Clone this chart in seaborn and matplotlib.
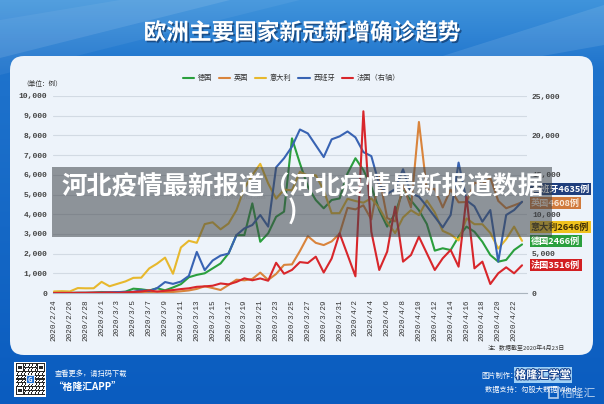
import numpy as np
import pandas as pd
import matplotlib
matplotlib.use("Agg")
import matplotlib.pyplot as plt
import matplotlib.patheffects as pe
from matplotlib.patches import FancyBboxPatch, Rectangle, Polygon
from matplotlib.lines import Line2D
from matplotlib.ticker import FuncFormatter, MultipleLocator
import seaborn as sns

# ---------------- data ----------------
dates = pd.date_range("2020-02-24", "2020-04-23", freq="D")
germany = [0, 0, 2, 10, 9, 19, 51, 29, 37, 66, 220, 188, 129, 241, 136, 281, 450, 800, 920, 1000,
           1250, 1500, 2010, 2940, 2940, 4550, 2600, 3030, 3870, 4130, 7850, 6580, 5400, 4720, 4300,
           4720, 4800, 6070, 6840, 6240, 5400, 4210, 3370, 4040, 5200, 4700, 4200, 3500, 2150, 2270,
           2180, 2860, 3370, 3110, 2600, 1930, 1590, 1680, 2180, 2466]
uk = [0, 0, 0, 2, 5, 3, 13, 4, 11, 34, 30, 48, 43, 67, 48, 52, 87, 130, 208, 342,
      251, 152, 407, 676, 643, 714, 1035, 665, 967, 1427, 1452, 2129, 2885, 2546, 2433,
      2619, 3009, 4324, 4244, 4450, 3735, 5903, 3802, 3634, 5491, 4344, 8681, 5233, 5288, 4342,
      5252, 4603, 4617, 5599, 5525, 5850, 4676, 4301, 4451, 4608]
italy = [78, 93, 78, 250, 238, 240, 566, 342, 466, 587, 769, 778, 1247, 1492, 1797, 977, 2313, 2651,
         2547, 3497, 3590, 3233, 3526, 4207, 5322, 5986, 6557, 5560, 4789, 5249, 5210, 6153, 5959,
         5974, 5217, 4050, 4053, 4782, 4668, 4585, 4805, 4316, 3599, 3039, 3836, 4204, 3951, 4694,
         4092, 3153, 2972, 2667, 3786, 3493, 3491, 3047, 2256, 2729, 3370, 2646]
spain = [0, 4, 2, 6, 9, 13, 20, 36, 47, 56, 60, 141, 100, 248, 557, 464, 581, 869, 2086, 1159,
         1650, 1900, 2000, 2940, 3280, 3450, 3960, 3370, 6380, 6840, 7430, 8300, 8100, 7500, 6900,
         7800, 7950, 8200, 7900, 7150, 6950, 5500, 5030, 5270, 6280, 5060, 4890, 4400, 3870, 3330,
         3960, 6620, 4700, 4400, 3620, 4210, 1590, 3960, 4210, 4635]
france = [0, 2, 4, 20, 19, 43, 30, 61, 21, 73, 138, 190, 336, 177, 286, 372, 497, 595, 785, 838,
          924, 1210, 1097, 1404, 1861, 1617, 1847, 1559, 3838, 2446, 2931, 3922, 3809, 4611, 2599,
          4376, 7578, 4861, 2116, 23060, 7788, 2920, 5250, 10960, 3980, 4820, 7150, 5030, 2920, 4400,
          5460, 3340, 12200, 3130, 3980, 1140, 2500, 3260, 2500, 3516]

left_names = ["德国", "英国", "意大利", "西班牙"]
france_name = "法国"
france_legend = "法国（右轴）"
colors = {"德国": "#2a9f3d", "英国": "#d9843c", "意大利": "#e7b82d",
          "西班牙": "#3863b3", "法国": "#d8262b"}
end_label_order = ["西班牙", "英国", "意大利", "德国", "法国"]
end_label_y = [189, 203, 227, 241, 265]
end_label_text_color = {"西班牙": "white", "英国": "#fbe9d8", "意大利": "#3b2c05",
                        "德国": "white", "法国": "white"}
end_box_color = {"西班牙": "#1f3e7c", "英国": "#d07a3c", "意大利": "#f0c21e",
                 "德国": "#2a9f3d", "法国": "#d21f22"}

title = "欧洲主要国家新冠新增确诊趋势"
unit_label = "（单位：例）"
banner_line1 = "河北疫情最新报道（河北疫情最新报道数据"
banner_line2 = ")"
note = "注：数据截至2020年4月23日"

series = {"德国": germany, "英国": uk, "意大利": italy, "西班牙": spain}
df = pd.DataFrame({"date": dates, **series})
long = df.melt(id_vars="date", var_name="country", value_name="cases")
fr = pd.DataFrame({"date": dates, "cases": france})

# ---------------- style ----------------
sns.set_style("white")
plt.rcParams["font.family"] = ["Noto Sans CJK SC", "DejaVu Sans"]
plt.rcParams["axes.unicode_minus"] = False

W, H = 604, 404
fig = plt.figure(figsize=(W / 100, H / 100), dpi=100)

# ---------------- background ----------------
bg = fig.add_axes([0, 0, 1, 1], zorder=0)
yy = np.linspace(0, 1, H)[:, None]
c_top = np.array([0.25, 0.58, 0.86])
c_mid = np.array([0.12, 0.45, 0.80])
c_bot = np.array([0.04, 0.36, 0.75])
t1 = np.clip(yy / (70 / H), 0, 1)
t2 = np.clip((yy - 70 / H) / (1 - 70 / H), 0, 1)
grad = np.where(yy[..., None] < 70 / H,
                c_top * (1 - t1[..., None]) + c_mid * t1[..., None],
                c_mid * (1 - t2[..., None]) + c_bot * t2[..., None])
grad = np.broadcast_to(grad, (H, W, 3))
bg.imshow(grad, extent=(0, W, H, 0), aspect="auto", zorder=0)
bg.add_patch(Polygon([[0, 0], [230, 0], [0, 58]], closed=True, fc="white", alpha=0.10, ec="none", zorder=1))
bg.add_patch(Polygon([[0, 20], [120, 0], [300, 0], [0, 75]], closed=True, fc="white", alpha=0.06, ec="none", zorder=1))
bg.add_patch(Polygon([[430, 60], [604, 5], [604, 45], [520, 60]], closed=True, fc="white", alpha=0.10, ec="none", zorder=1))
bg.add_patch(FancyBboxPatch((10, 56), 583, 299, boxstyle="round,pad=0,rounding_size=14",
                            fc="#edf3fa", ec="none", zorder=2))
bg.set_xlim(0, W)
bg.set_ylim(H, 0)
bg.axis("off")

bg.text(W / 2, 33, title, ha="center", va="center", fontsize=16.3, fontweight="bold", color="white",
        zorder=3, path_effects=[pe.withSimplePatchShadow(offset=(1.2, -1.2), shadow_rgbFace="#0b2a55", alpha=0.6)])
bg.text(22, 84, unit_label, ha="left", va="center", fontsize=4.8, color="#333333", zorder=3)
bg.text(565, 348, note, ha="right", va="center", fontsize=4.3, color="#333333", style="italic", zorder=3)

# ---------------- chart ----------------
ax = fig.add_axes([53 / W, 1 - 293 / H, 474 / W, 197 / H], zorder=2)
ax.patch.set_alpha(0)
sns.lineplot(data=long, x="date", y="cases", hue="country", hue_order=left_names,
             palette=colors, linewidth=1.5, legend=False, ax=ax)
ax.set_ylim(0, 10000)
ax.set_xlim(dates[0] - pd.Timedelta(hours=3), dates[-1] + pd.Timedelta(hours=15))
ax.yaxis.set_major_locator(MultipleLocator(1000))
fmt = FuncFormatter(lambda v, p: f"{int(v):,}")
ax.yaxis.set_major_formatter(fmt)
ax.grid(axis="y", color="#d2dae3", linewidth=0.8)
ax.grid(axis="x", visible=False)
ax.set_axisbelow(True)
for s in ["left", "right", "top"]:
    ax.spines[s].set_visible(False)
ax.spines["bottom"].set_color("#aab4be")
ax.spines["bottom"].set_linewidth(0.8)
tick_dates = dates[::2]
ax.set_xticks(tick_dates)
ax.set_xticklabels([f"{d.year}/{d.month}/{d.day}" for d in tick_dates], rotation=90,
                   fontfamily="Liberation Mono", fontsize=5.5, color="#333333")
ax.tick_params(axis="x", length=3, color="#aab4be", width=0.6, pad=1.5)
ax.tick_params(axis="y", length=0, pad=4.3)
for lab in ax.get_yticklabels():
    lab.set_fontfamily("Liberation Mono")
    lab.set_fontsize(5.8)
    lab.set_fontweight("bold")
    lab.set_color("#444444")
ax.set_xlabel("")
ax.set_ylabel("")

ax2 = ax.twinx()
ax2.set_zorder(3)
ax2.patch.set_alpha(0)
sns.lineplot(data=fr, x="date", y="cases", color=colors["法国"], linewidth=1.5, ax=ax2, legend=False)
ax2.set_ylim(0, 25000)
ax2.yaxis.set_major_locator(MultipleLocator(5000))
ax2.yaxis.set_major_formatter(fmt)
for s in ax2.spines.values():
    s.set_visible(False)
ax2.tick_params(axis="y", length=0, pad=3.6)
for lab in ax2.get_yticklabels():
    lab.set_fontfamily("Liberation Mono")
    lab.set_fontsize(5.8)
    lab.set_fontweight("bold")
    lab.set_color("#444444")
ax2.set_ylabel("")
ax2.set_xlabel("")

handles = [Line2D([0], [0], color=colors[n], lw=1.5) for n in left_names + [france_name]]
ax2.legend(handles, left_names + [france_legend], loc="center", bbox_to_anchor=(0.503, 1.091),
           ncol=5, frameon=False, fontsize=5.2, handlelength=1.6, handletextpad=0.5,
           columnspacing=0.9, labelcolor="#333333")

# ---------------- overlay ----------------
ov = fig.add_axes([0, 0, 1, 1], zorder=5)
ov.patch.set_alpha(0)
ov.set_xlim(0, W)
ov.set_ylim(H, 0)
ov.axis("off")

all_series = {**series, "法国": france}
for name, yc in zip(end_label_order, end_label_y):
    ov.text(531, yc, f"{name}{all_series[name][-1]}例", ha="left", va="center", fontsize=6.6,
            fontweight="bold", color=end_label_text_color[name], zorder=2,
            bbox=dict(boxstyle="square,pad=0.16", fc=end_box_color[name], ec="none"))

ov.text(239, 198, "www.gelonghui.com", ha="center", va="center", fontsize=4.2, color="#c8ccd2",
        alpha=0.6, zorder=4)
ov.add_patch(Rectangle((52, 167), 500, 70, fc="#3f4449", ec="none", alpha=0.55, zorder=5))
ov.text(303, 187, banner_line1, ha="center", va="center", fontsize=18.3, fontweight="bold",
        color="white", zorder=6)
ov.text(292, 212, banner_line2, ha="center", va="center", fontsize=18.3, fontweight="bold",
        color="white", zorder=6)

# footer: QR code
n = 25
qi, qj = np.meshgrid(np.arange(n), np.arange(n), indexing="ij")
qr = ((qi * qi + 3 * qj + qi * qj) % 3 == 0).astype(float)
for (r0, c0) in [(0, 0), (0, n - 7), (n - 7, 0)]:
    qr[r0:r0 + 7, c0:c0 + 7] = 1
    qr[r0 + 1:r0 + 6, c0 + 1:c0 + 6] = 0
    qr[r0 + 2:r0 + 5, c0 + 2:c0 + 5] = 1
qr_img = np.ones((n, n, 3)) - qr[..., None] * 0.85
ov.add_patch(Rectangle((14, 362), 32, 35, fc="white", ec="none", zorder=1))
ov.imshow(qr_img, extent=(15.5, 44.5, 395.5, 363.5), aspect="auto", zorder=2, interpolation="nearest")
ov.add_patch(Rectangle((26, 375), 8, 8, fc="#1d6fd6", ec="white", lw=0.6, zorder=3))
ov.text(30, 379.3, "G", ha="center", va="center", fontsize=4.5, color="white", fontweight="bold", zorder=4)
ov.set_xlim(0, W)
ov.set_ylim(H, 0)

ov.text(55, 374, "查看更多，请扫码下载", ha="left", va="center", fontsize=5.2, color="white", style="italic")
ov.text(53, 387, "“格隆汇APP”", ha="left", va="center", fontsize=7, color="white", fontweight="bold",
        style="italic")
ov.text(518, 376, "图片制作：", ha="right", va="center", fontsize=5.2, color="white")
ov.text(543, 375, "格隆汇学堂", ha="center", va="center", fontsize=8, fontweight="bold", color="white",
        path_effects=[pe.withStroke(linewidth=1.4, foreground="#123f8c")],
        bbox=dict(boxstyle="square,pad=0.12", fc="#9fd0f5", ec="none"))
ov.text(485, 390, "数据支持：勾股大数据 Wind", ha="left", va="center", fontsize=5.2, color="white")
ov.add_patch(Rectangle((549, 387), 9, 11, fc="none", ec="white", lw=1.2, alpha=0.7))
ov.text(578, 393, "格隆汇", ha="center", va="center", fontsize=8.5, color="white", alpha=0.7)

fig.savefig("out.png", dpi=100)
